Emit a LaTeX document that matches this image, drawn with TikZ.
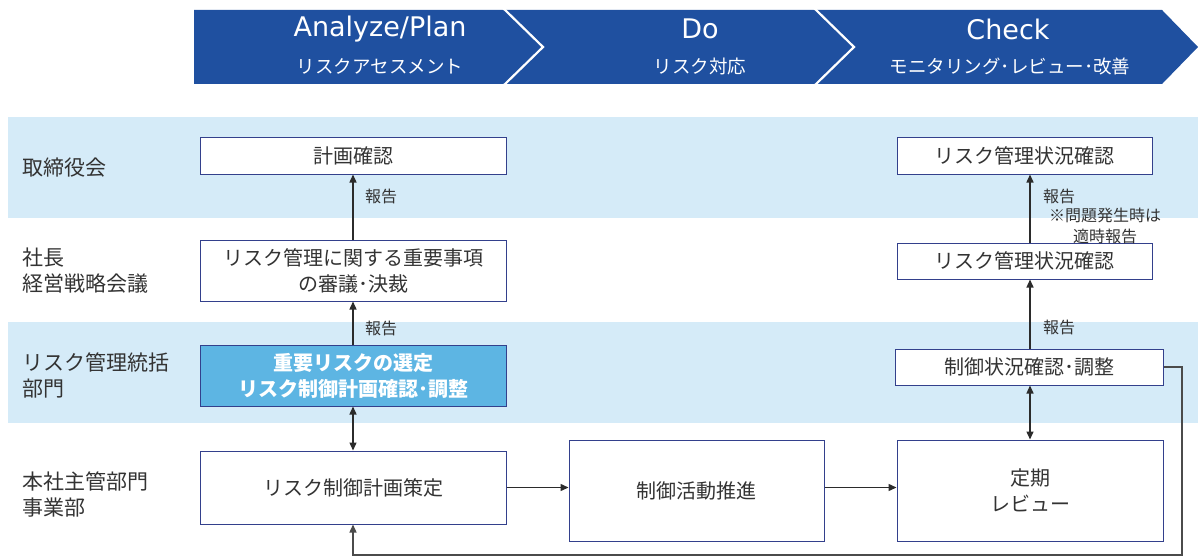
\documentclass[tikz,border=0pt]{standalone}
\usepackage{fontspec}
\setmainfont{Noto Sans CJK JP}
\newfontfamily\latinhdr{DejaVu Sans}
\usetikzlibrary{arrows.meta,calc}
\definecolor{hdr}{HTML}{1F50A0}
\definecolor{band}{HTML}{D5EBF8}
\definecolor{bord}{HTML}{33408C}
\definecolor{txt}{HTML}{333333}
\definecolor{bluebox}{HTML}{5DB5E3}
\definecolor{arr}{HTML}{2B2B2B}
\tikzset{
  box/.style={draw=bord, line width=1pt, fill=white, text=txt, align=center, inner sep=0pt,
    font=\fontsize{20}{26}\selectfont},
  rowlabel/.style={anchor=west, text=txt, align=left, inner sep=0pt, font=\fontsize{21}{26}\selectfont},
  small/.style={text=txt, inner sep=0pt, font=\fontsize{16}{21}\selectfont},
  conn/.style={draw=arr, line width=1.4pt, -{Triangle[length=8pt,width=7pt]}},
  bconn/.style={draw=arr, line width=1.4pt, {Triangle[length=8pt,width=7pt]}-{Triangle[length=8pt,width=7pt]}},
  hdrbig/.style={text=white, inner sep=0pt, font=\latinhdr\fontsize{27}{30}\selectfont},
  hdrsub/.style={text=white, inner sep=0pt, font=\fontsize{18.5}{20}\selectfont},
}
\begin{document}
\begin{tikzpicture}[x=1pt,y=-1pt]
\useasboundingbox (0,0) rectangle (1198,559);
% header
\fill[hdr] (194,10) -- (1162,10) -- (1198,47) -- (1162,84) -- (194,84) -- cycle;
\draw[white, line width=2.2pt] (503,8) -- (543,47) -- (503,86);
\draw[white, line width=2.2pt] (814,8) -- (854,47) -- (814,86);
\node[hdrbig] (h1) at (380,29) {Analyze/Plan};
\node[hdrsub] (h1s) at (380,66) {リスクアセスメント};
\node[hdrbig] (h2) at (700,29) {Do};
\node[hdrsub] (h2s) at (700,66) {リスク対応};
\node[hdrbig] (h3) at (1008,29) {Check};
\node[hdrsub] (h3s) at (1010,66) {モニタリング･レビュー･改善};
% bands
\fill[band] (8,117) rectangle (1198,218);
\fill[band] (8,322) rectangle (1198,423);
% row labels
\node[rowlabel] (r1) at (22,168) {取締役会};
\node[rowlabel] (r2) at (22,271) {社長\\経営戦略会議};
\node[rowlabel] (r3) at (22,375.5) {リスク管理統括\\部門};
\node[rowlabel] (r4) at (22,494.5) {本社主管部門\\事業部};
% boxes
\node[box, minimum width=306pt, minimum height=37pt] (b1) at (353,155.5) {計画確認};
\node[box, minimum width=306pt, minimum height=61pt] (b2) at (353,270.5) {リスク管理に関する重要事項\\の審議･決裁};
\node[box, fill=bluebox, text=white, minimum width=306pt, minimum height=61pt, font=\fontsize{20}{26}\selectfont\bfseries] (b3) at (353,375.5) {重要リスクの選定\\リスク制御計画確認･調整};
\node[box, minimum width=306pt, minimum height=73pt] (b4) at (353,487.5) {リスク制御計画策定};
\node[box, minimum width=255pt, minimum height=101pt] (b5) at (696.5,490.5) {制御活動推進};
\node[box, minimum width=266pt, minimum height=101pt] (b6) at (1030,490.5) {定期\\レビュー};
\node[box, minimum width=268pt, minimum height=36pt] (b7) at (1029,367) {制御状況確認･調整};
\node[box, minimum width=255pt, minimum height=36pt] (b8) at (1024.5,261) {リスク管理状況確認};
\node[box, minimum width=255pt, minimum height=37pt] (b9) at (1024.5,155.5) {リスク管理状況確認};
% connectors
\draw[conn] (b2.north) -- (b1.south);
\draw[conn] (b3.north) -- (b2.south);
\draw[bconn] (b3.south) -- (b4.north);
\draw[conn] (b4.east) -- (b4.east -| b5.west);
\draw[conn] (b4.east -| b5.east) -- (b4.east -| b6.west);
\draw[bconn] (b7.south -| b6.north) -- (b6.north);
\draw[conn] (b7.north -| b6.north) -- (b8.south -| b6.north);
\draw[conn] (b8.north -| b6.north) -- (b9.south -| b6.north);
\coordinate (loopc) at (1182,555);
\draw[conn, draw=arr!85] (b7.east) -| (loopc) -| (b4.south);
% labels
\node[small, anchor=west] (l1) at (365,196) {報告};
\node[small, anchor=west] (l2) at (365,328) {報告};
\node[small, anchor=west] (l3) at (1043,196) {報告};
\node[small, align=center] (l4) at (1105,226) {※問題発生時は\\適時報告};
\node[small, anchor=west] (l5) at (1043,327) {報告};
\end{tikzpicture}
\end{document}
